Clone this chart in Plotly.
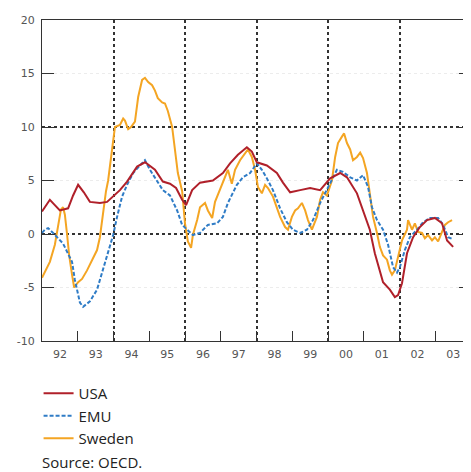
import plotly.graph_objects as go

# ---- data (decimal years, % change) ----
usa_t = [1992.00, 1992.11, 1992.22, 1992.36, 1992.50, 1992.73, 1992.87, 1993.01, 1993.17, 1993.34,
         1993.62, 1993.82, 1993.96, 1994.18, 1994.38, 1994.66, 1994.88, 1995.16, 1995.38, 1995.58,
         1995.75, 1995.92, 1996.03, 1996.20, 1996.42, 1996.78, 1997.06, 1997.26, 1997.48, 1997.73,
         1997.87, 1998.01, 1998.29, 1998.57, 1998.74, 1998.94, 1999.22, 1999.50, 1999.78, 2000.06,
         2000.34, 2000.53, 2000.81, 2000.98, 2001.17, 2001.31, 2001.54, 2001.73, 2001.87, 2001.96,
         2002.07, 2002.21, 2002.38, 2002.57, 2002.77, 2002.99, 2003.19, 2003.33, 2003.50]
usa_v = [2.1, 2.7, 3.2, 2.7, 2.2, 2.4, 3.6, 4.6, 3.9, 3.0,
         2.9, 3.0, 3.4, 4.1, 4.9, 6.3, 6.7, 6.0, 4.9, 4.7,
         4.3, 3.2, 2.7, 4.1, 4.8, 5.0, 5.7, 6.6, 7.4, 8.1,
         7.7, 6.7, 6.4, 5.7, 4.8, 3.9, 4.1, 4.3, 4.1, 5.2,
         5.7, 5.3, 3.8, 2.2, 0.4, -1.8, -4.5, -5.2, -5.9, -5.7,
         -4.6, -1.8, -0.3, 0.65, 1.3, 1.5, 1.0, -0.6, -1.2]

emu_t = [1992.00, 1992.08, 1992.17, 1992.31, 1992.59, 1992.73, 1992.84, 1992.92, 1993.06, 1993.15,
         1993.34, 1993.54, 1993.62, 1993.71, 1993.85, 1993.99, 1994.10, 1994.24, 1994.38, 1994.55,
         1994.74, 1994.88, 1995.02, 1995.22, 1995.38, 1995.58, 1995.78, 1995.92, 1996.06, 1996.22,
         1996.42, 1996.64, 1996.90, 1997.06, 1997.20, 1997.45, 1997.62, 1997.82, 1998.01, 1998.15,
         1998.29, 1998.46, 1998.66, 1998.85, 1999.02, 1999.22, 1999.41, 1999.58, 1999.78, 1999.97,
         2000.14, 2000.25, 2000.42, 2000.62, 2000.81, 2000.98, 2001.12, 2001.23, 2001.37, 2001.54,
         2001.68, 2001.82, 2001.93, 2002.01, 2002.15, 2002.29, 2002.49, 2002.66, 2002.85, 2003.08,
         2003.22, 2003.36, 2003.50]
emu_v = [0.1, 0.4, 0.55, 0.1, -0.9, -1.8, -2.6, -4.3, -6.4, -6.8,
         -6.3, -5.2, -4.3, -3.1, -1.5, -0.1, 1.6, 3.5, 4.6, 5.7,
         6.4, 6.9, 6.0, 5.0, 4.1, 3.6, 2.2, 0.85, 0.4, -0.1,
         0.1, 0.85, 1.0, 1.6, 2.9, 4.6, 5.3, 5.7, 6.6, 6.0,
         5.2, 4.1, 2.4, 1.1, 0.4, 0.1, 0.4, 1.3, 2.9, 4.1,
         5.2, 6.0, 5.8, 5.3, 5.0, 5.5, 4.4, 2.5, 1.3, 0.4,
         -1.0, -3.1, -3.6, -3.1, -1.5, -0.3, 0.4, 1.1, 1.5, 1.5,
         0.85, -0.3, -0.5]

swe_t = [1992.00, 1992.11, 1992.22, 1992.36, 1992.45, 1992.53, 1992.59, 1992.64, 1992.70, 1992.76,
         1992.84, 1992.90, 1993.01, 1993.12, 1993.26, 1993.40, 1993.54, 1993.62, 1993.71, 1993.79,
         1993.85, 1993.90, 1993.96, 1994.04, 1994.18, 1994.27, 1994.32, 1994.41, 1994.49, 1994.60,
         1994.69, 1994.80, 1994.88, 1994.97, 1995.08, 1995.16, 1995.24, 1995.36, 1995.44, 1995.52,
         1995.64, 1995.72, 1995.80, 1995.92, 1996.00, 1996.08, 1996.17, 1996.22, 1996.34, 1996.42,
         1996.56, 1996.64, 1996.76, 1996.84, 1996.98, 1997.06, 1997.20, 1997.31, 1997.40, 1997.54,
         1997.68, 1997.76, 1997.87, 1997.96, 1998.04, 1998.15, 1998.24, 1998.32, 1998.46, 1998.57,
         1998.66, 1998.80, 1998.88, 1998.99, 1999.08, 1999.16, 1999.27, 1999.36, 1999.44, 1999.55,
         1999.69, 1999.78, 1999.86, 1999.97, 2000.06, 2000.11, 2000.20, 2000.28, 2000.39, 2000.45,
         2000.53, 2000.62, 2000.70, 2000.81, 2000.90, 2000.98, 2001.09, 2001.17, 2001.26, 2001.37,
         2001.45, 2001.54, 2001.65, 2001.73, 2001.79, 2001.87, 2001.96, 2002.07, 2002.21, 2002.24,
         2002.35, 2002.43, 2002.52, 2002.63, 2002.71, 2002.80, 2002.91, 2002.99, 2003.08, 2003.19,
         2003.27, 2003.36, 2003.47]
swe_v = [-4.1, -3.4, -2.6, -1.0, 0.8, 2.3, 2.5, 1.8, 0.0, -2.0,
         -3.8, -5.0, -4.5, -4.2, -3.4, -2.4, -1.5, -0.3, 2.0, 4.0,
         5.0, 6.2, 8.0, 10.0, 10.2, 10.8, 10.6, 9.8, 10.0, 10.5,
         12.8, 14.4, 14.6, 14.2, 13.9, 13.4, 12.7, 12.3, 12.2, 11.5,
         10.0, 8.1, 5.7, 4.0, 1.0, -0.7, -1.3, -0.1, 1.3, 2.5,
         2.9, 2.2, 1.5, 3.0, 4.2, 4.7, 6.0, 4.7, 6.0, 6.9,
         7.6, 7.9, 7.2, 6.0, 4.4, 3.8, 4.6, 4.3, 3.5, 2.5,
         1.6, 0.65, 0.4, 1.6, 2.2, 2.4, 2.9, 2.2, 1.3, 0.4,
         1.6, 3.2, 3.9, 3.6, 4.4, 5.0, 7.2, 8.5, 9.1, 9.4,
         8.5, 7.9, 6.9, 7.2, 7.6, 7.1, 5.7, 3.5, 1.6, 0.1,
         -1.2, -2.0, -2.4, -3.4, -3.8, -3.4, -2.1, -0.6, 0.4, 1.3,
         0.4, 1.0, 0.2, 0.1, -0.4, -0.1, -0.6, -0.3, -0.7, 0.1,
         0.85, 1.1, 1.3]

year_centers = [1992.5 + i for i in range(12)]
year_labels = ["92", "93", "94", "95", "96", "97", "98", "99", "00", "01", "02", "03"]
y_ticks = [-10, -5, 0, 5, 10, 15, 20]
y_labels = ["-10", "-5", "0", "5", "10", "15", "20"]

C_USA = "#B0202A"
C_EMU = "#2F7CC6"
C_SWE = "#F4A523"
GRID = "#333333"
TICKFONT = dict(family="DejaVu Sans", size=11, color="#555555")

fig = go.Figure()
fig.add_trace(go.Scatter(x=swe_t, y=swe_v, mode="lines", name="Sweden", legendrank=3,
                         line=dict(color=C_SWE, width=2)))
fig.add_trace(go.Scatter(x=emu_t, y=emu_v, mode="lines", name="EMU", legendrank=2,
                         line=dict(color=C_EMU, width=2, dash="4px,2px")))
fig.add_trace(go.Scatter(x=usa_t, y=usa_v, mode="lines", name="USA", legendrank=1,
                         line=dict(color=C_USA, width=2)))
# helper trace so the overlay axes (labels / major grid) are drawn
fig.add_trace(go.Scatter(x=[], y=[], xaxis="x2", yaxis="y2", showlegend=False, hoverinfo="skip"))

fig.update_layout(
    width=463, height=464,
    margin=dict(l=34, r=0, t=12, b=131),
    paper_bgcolor="white", plot_bgcolor="white",
    showlegend=True,
    legend=dict(x=-0.008, y=-0.112, xanchor="left", yanchor="top",
                font=dict(family="Open Sans", size=15, color="#222222"),
                bgcolor="rgba(0,0,0,0)", tracegroupgap=0),
    xaxis=dict(range=[1992, 2004], tickmode="array", tickvals=[1992, 1994, 1996, 1998, 2000, 2002, 2004],
               showticklabels=False, showgrid=True, gridcolor=GRID, griddash="dot", gridwidth=1.5,
               ticks="inside", ticklen=10, tickcolor=GRID, tickwidth=1,
               minor=dict(dtick=1, tick0=1992, ticks="inside", ticklen=10, tickcolor=GRID, showgrid=False),
               showline=True, linecolor=GRID, linewidth=1, mirror=True, zeroline=False),
    xaxis2=dict(range=[1992, 2004], overlaying="x", matches="x", tickmode="array",
                tickvals=year_centers, ticktext=year_labels, tickfont=TICKFONT, ticklabelstandoff=5,
                showgrid=False, ticks="", showline=False, zeroline=False, side="bottom"),
    yaxis=dict(range=[-10, 20], tickmode="array", tickvals=y_ticks, ticktext=y_labels,
               tickfont=TICKFONT, showgrid=True, gridcolor="#ececec", griddash="dot", gridwidth=1,
               ticks="inside", ticklen=12, tickcolor=GRID, tickwidth=1, ticklabelstandoff=4,
               showline=True, linecolor=GRID, linewidth=1, mirror="ticks", zeroline=False),
    yaxis2=dict(range=[-10, 20], overlaying="y", matches="y", tickmode="array", tickvals=[-10, 0, 10, 20],
                showticklabels=False, showgrid=True, gridcolor=GRID, griddash="dot", gridwidth=1.5,
                ticks="", zeroline=False, showline=False),
    annotations=[dict(text="Source: OECD.", xref="paper", yref="paper", x=-0.005, y=-0.377,
                      xanchor="left", yanchor="middle", showarrow=False,
                      font=dict(family="Open Sans", size=15, color="#222222"))],
)

fig.write_html("out.html")
